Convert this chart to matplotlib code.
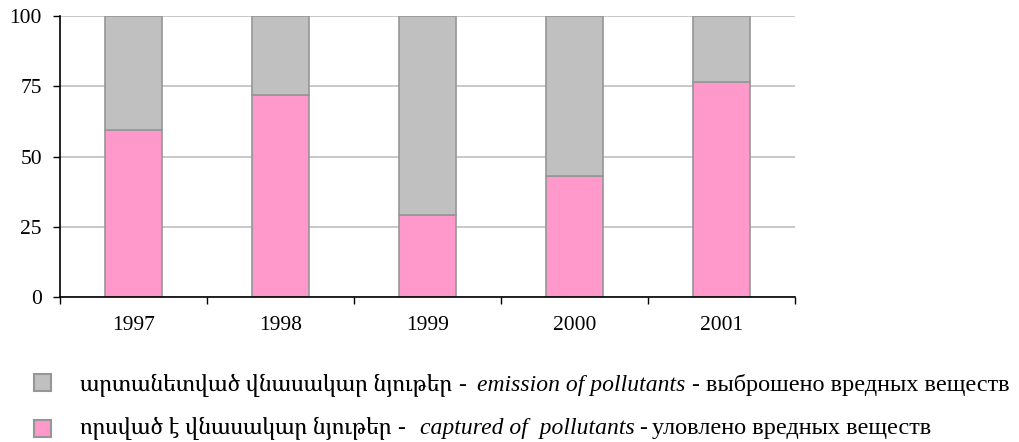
import matplotlib
matplotlib.use("Agg")
import matplotlib.pyplot as plt
from matplotlib.patches import Rectangle

years = ["1997", "1998", "1999", "2000", "2001"]
captured = [59.5, 72.0, 29.2, 43.2, 76.6]
emission = [100 - c for c in captured]
y_ticks = [0, 25, 50, 75, 100]

legend_emission = ["արտանետված վնասակար նյութեր", "-", "emission of pollutants", "-", "выброшено вредных веществ"]
legend_captured = ["որսված է վնասակար նյութեր", "-", "captured of  pollutants", "-", "уловлено вредных веществ"]

pink = "#FF99CC"
gray = "#C0C0C0"
edge = "#969696"

serif = ["Liberation Serif", "DejaVu Serif"]
armenian = ["Noto Serif Armenian", "DejaVu Serif"]
plt.rcParams["font.family"] = serif

W, H = 1019, 442
fig = plt.figure(figsize=(W / 100, H / 100), dpi=100)
ax = fig.add_axes([60 / W, 1 - 297 / H, (795 - 60) / W, (297 - 16) / H])

x = list(range(len(years)))
ax.bar(x, captured, width=0.39, color=pink, edgecolor=edge, linewidth=1.2, zorder=3)
ax.bar(x, emission, bottom=captured, width=0.39, color=gray, edgecolor=edge,
       linewidth=1.2, zorder=3)

ax.set_xlim(-0.5, len(years) - 0.5)
ax.set_ylim(0, 100)
ax.set_yticks(y_ticks)
ax.set_yticklabels([str(v) for v in y_ticks], fontsize=15.5)
ax.set_xticks([i - 0.5 for i in range(len(years) + 1)])
ax.set_xticklabels([])
ax.set_xticks(x, minor=True)
ax.set_xticklabels(years, minor=True, fontsize=15.5)
ax.tick_params(axis="x", which="minor", length=0, pad=14)
ax.tick_params(axis="x", which="major", length=5, direction="out", width=1)
ax.tick_params(axis="y", length=5, direction="out", width=1, pad=8)
ax.yaxis.grid(True, color="#C4C4C4", linewidth=1.3, zorder=0)
ax.set_axisbelow(True)
for s in ["top", "right"]:
    ax.spines[s].set_visible(False)
for s in ["left", "bottom"]:
    ax.spines[s].set_linewidth(1.2)
    ax.spines[s].set_zorder(4)

# legend rows: colour, text pieces, (x px, alignment) of each piece, baseline px, square top px
rows = [
    (gray, legend_emission,
     [(80, "left"), (462, "center"), (685, "right"), (695, "center"), (706, "left")], 391, 374),
    (pink, legend_captured,
     [(80, "left"), (401, "center"), (420, "left"), (643, "center"), (652, "left")], 434, 420),
]
specs = [
    dict(family=armenian, fontsize=16),
    dict(family=serif, fontsize=17),
    dict(family=serif, fontsize=17, style="italic"),
    dict(family=serif, fontsize=17),
    dict(family=serif, fontsize=17.5),
]
for color, parts, places, ybase, sq_top in rows:
    fig.patches.append(Rectangle((34 / W, 1 - (sq_top + 17) / H), 17 / W, 17 / H,
                                 transform=fig.transFigure, facecolor=color,
                                 edgecolor=edge, linewidth=1.5))
    for p, (xp, al), sp in zip(parts, places, specs):
        fig.text(xp / W, 1 - ybase / H, p, va="baseline", ha=al, **sp)

fig.savefig("out.png", dpi=100)
